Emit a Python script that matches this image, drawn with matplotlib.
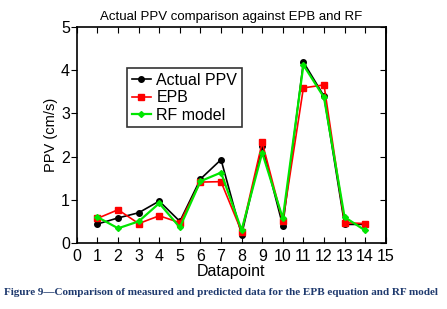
import numpy as np
import matplotlib.pyplot as plt

datapoint = np.arange(1, 15)
actual_ppv = [0.44, 0.58, 0.70, 0.97, 0.50, 1.48, 1.93, 0.19, 2.24, 0.40, 4.19, 3.40, 0.43, 0.43]
epb = [0.57, 0.77, 0.45, 0.63, 0.47, 1.41, 1.42, 0.26, 2.33, 0.50, 3.59, 3.66, 0.47, 0.45]
rf_model = [0.60, 0.34, 0.50, 0.92, 0.36, 1.43, 1.63, 0.30, 2.09, 0.57, 4.12, 3.37, 0.60, 0.29]

plt.rcParams['font.family'] = ['Liberation Sans', 'DejaVu Sans']

fig = plt.figure(figsize=(4.47, 3.09), dpi=100)
ax = fig.add_axes([0.172, 0.2136, 0.691, 0.699])

ax.plot(datapoint, actual_ppv, '-o', color='black', lw=1.2, ms=4, label='Actual PPV')
ax.plot(datapoint, epb, '-s', color='#ff0000', lw=1.2, ms=4.5, label='EPB')
ax.plot(datapoint, rf_model, '-D', color='#00e600', lw=1.6, ms=3, label='RF model')

ax.set_xlim(0, 15)
ax.set_ylim(0, 5)
ax.set_xticks(range(0, 16))
ax.set_yticks(range(0, 6))
ax.tick_params(axis='x', direction='in', top=True, length=4, labelsize=11.5, pad=4)
ax.tick_params(axis='y', direction='out', right=False, length=4, labelsize=11.5, pad=1)

# right axis ticks point inward, no labels
ax_r = ax.secondary_yaxis('right')
ax_r.set_yticks(range(0, 6))
ax_r.tick_params(direction='in', length=4, labelright=False)
ax_r.spines['right'].set_linewidth(1.2)

for sp in ax.spines.values():
    sp.set_linewidth(1.2)

ax.set_xlabel('Datapoint', fontsize=11.5, labelpad=0)
ax.set_ylabel('PPV (cm/s)', fontsize=10.5, labelpad=2)
ax.set_title('Actual PPV comparison against EPB and RF', fontsize=9.5, pad=5)

leg = ax.legend(loc='upper left', bbox_to_anchor=(0.162, 0.81), fontsize=11.5,
                frameon=True, fancybox=False, edgecolor='black',
                handlelength=1.2, handletextpad=0.35, borderpad=0.3, labelspacing=0.15,
                borderaxespad=0)
leg.get_frame().set_linewidth(1.2)

fig.text(0.495, 0.055, 'Figure 9\u2014Comparison of measured and predicted data for the EPB equation and RF model',
         ha='center', va='center', fontsize=8.0, fontweight='bold', color='#1f3a6e',
         family=['Liberation Serif', 'DejaVu Serif'])

fig.savefig('out.png', dpi=100)
